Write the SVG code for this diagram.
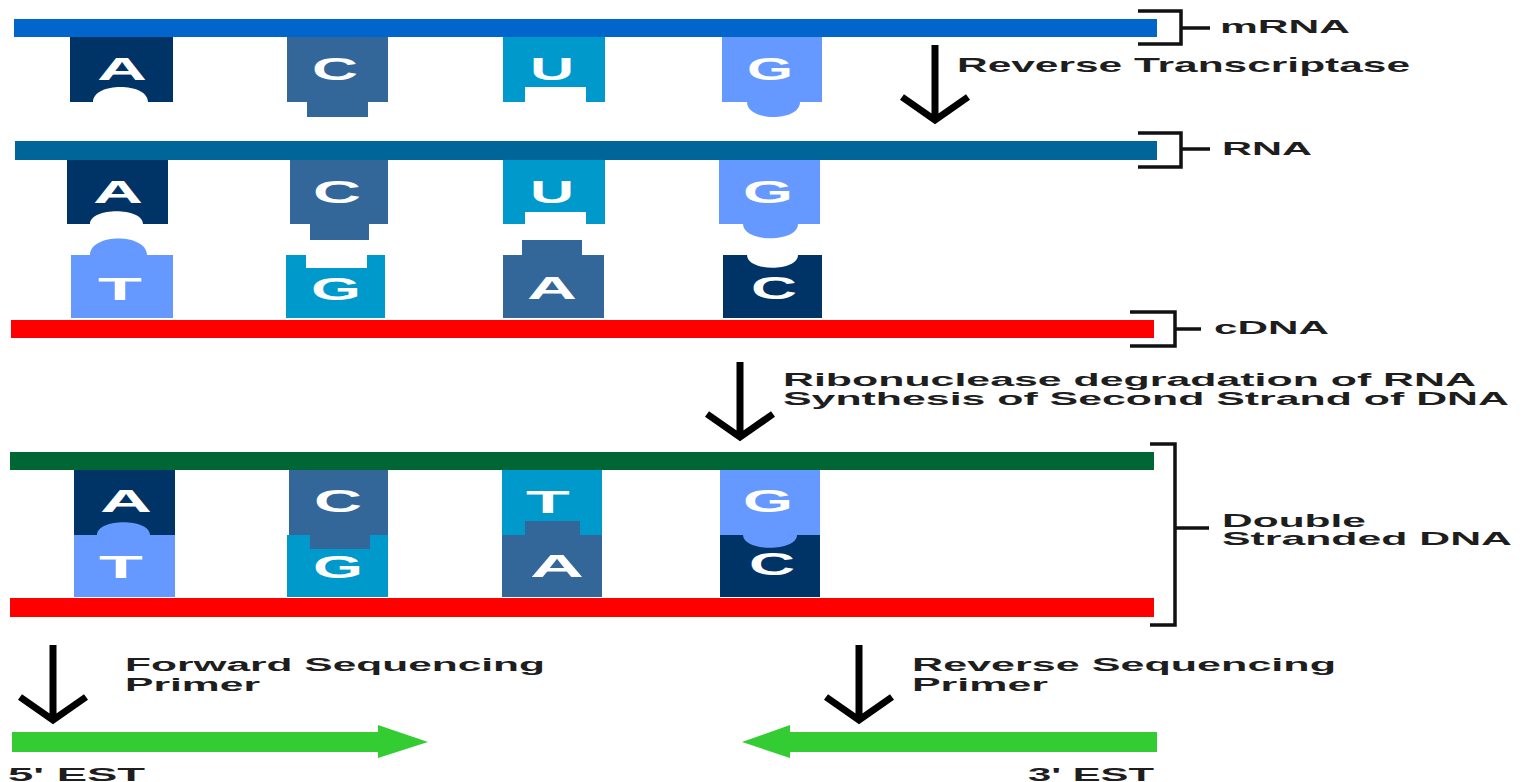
<svg xmlns="http://www.w3.org/2000/svg" width="1524" height="782" viewBox="0 0 1524 782">
<style>
.lbl{font-family:"Liberation Sans",Arial,sans-serif;font-weight:bold;fill:#1e1e1e;}
.b{font-family:"Liberation Sans",Arial,sans-serif;font-weight:bold;fill:#ffffff;font-size:32px;text-anchor:middle;}
.c1{fill:#003366;}
.c2{fill:#336699;}
.c3{fill:#0099CC;}
.c4{fill:#6699FF;}
.brk{fill:none;stroke:#111;stroke-width:3.5;}
.dn{fill:none;stroke:#000;stroke-width:7;}
.gr{fill:#33CC33;}
</style>
<rect width="1524" height="782" fill="#ffffff"/>

<!-- strands -->
<g id="strand-mrna"><rect x="14" y="19" width="1143" height="18" fill="#0066CC"/></g>
<g id="strand-rna"><rect x="15" y="141" width="1142" height="19" fill="#006699"/></g>
<g id="strand-cdna"><rect x="11" y="320" width="1143" height="18" fill="#FF0000"/></g>
<g id="strand-ds-top"><rect x="10" y="452" width="1144" height="18" fill="#006633"/></g>
<g id="strand-ds-bottom"><rect x="10" y="598" width="1144" height="19" fill="#FF0000"/></g>

<!-- row 1: mRNA bases -->
<g id="base-m-a"><path class="c1" d="M70,37H173V102H148C148,82 93,82 93,102H70Z"/><text class="b" x="122" y="80" textLength="50" lengthAdjust="spacingAndGlyphs">A</text></g>
<g id="base-m-c"><path class="c2" d="M287,37H388V102H368V117H307V102H287Z"/><text class="b" x="335" y="80" textLength="46" lengthAdjust="spacingAndGlyphs">C</text></g>
<g id="base-m-u"><path class="c3" d="M503,37H605V102H586V87H525V102H503Z"/><text class="b" x="552" y="80" textLength="44" lengthAdjust="spacingAndGlyphs">U</text></g>
<g id="base-m-g"><path class="c4" d="M722,37H822V102H800C800,122 747,122 747,102H722Z"/><text class="b" x="770" y="80" textLength="46" lengthAdjust="spacingAndGlyphs">G</text></g>

<!-- row 2: RNA bases -->
<g id="base-r-a"><path class="c1" d="M67,160H168V224H143C143,207 90,207 90,224H67Z"/><text class="b" x="118" y="203" textLength="50" lengthAdjust="spacingAndGlyphs">A</text></g>
<g id="base-r-c"><path class="c2" d="M290,160H388V224H369V240H310V224H290Z"/><text class="b" x="337" y="203" textLength="48" lengthAdjust="spacingAndGlyphs">C</text></g>
<g id="base-r-u"><path class="c3" d="M503,160H605V224H586V212H525V224H503Z"/><text class="b" x="552" y="203" textLength="44" lengthAdjust="spacingAndGlyphs">U</text></g>
<g id="base-r-g"><path class="c4" d="M719,160H820V224H798C798,243 743,243 743,224H719Z"/><text class="b" x="768" y="203" textLength="50" lengthAdjust="spacingAndGlyphs">G</text></g>

<!-- row 2: cDNA bases -->
<g id="base-c-t"><path class="c4" d="M71,255H90C90,233 147,233 147,255H173V318H71Z"/><text class="b" x="120" y="300" textLength="44" lengthAdjust="spacingAndGlyphs">T</text></g>
<g id="base-c-g"><path class="c3" d="M286,255H306V268H367V255H385V318H286Z"/><text class="b" x="336" y="300" textLength="50" lengthAdjust="spacingAndGlyphs">G</text></g>
<g id="base-c-a"><path class="c2" d="M503,255H522V240H582V255H604V318H503Z"/><text class="b" x="552" y="299" textLength="50" lengthAdjust="spacingAndGlyphs">A</text></g>
<g id="base-c-c"><path class="c1" d="M723,255H747C747,272 798,272 798,255H822V318H723Z"/><text class="b" x="774" y="299" textLength="46" lengthAdjust="spacingAndGlyphs">C</text></g>

<!-- row 3: double stranded pairs -->
<g id="pair-at">
<rect class="c1" x="74" y="470" width="101" height="65"/>
<text class="b" x="126" y="512" textLength="52" lengthAdjust="spacingAndGlyphs">A</text>
<path class="c4" d="M74,535H97C97,518 150,518 150,535H175V597H74Z"/>
<text class="b" x="121" y="578" textLength="44" lengthAdjust="spacingAndGlyphs">T</text>
</g>
<g id="pair-cg">
<rect class="c3" x="287" y="535" width="101" height="62"/>
<text class="b" x="338" y="578" textLength="50" lengthAdjust="spacingAndGlyphs">G</text>
<path class="c2" d="M289,470H388V535H370V549H310V535H289Z"/>
<text class="b" x="338" y="512" textLength="48" lengthAdjust="spacingAndGlyphs">C</text>
</g>
<g id="pair-ta">
<rect class="c3" x="502" y="470" width="100" height="65"/>
<text class="b" x="548" y="513" textLength="44" lengthAdjust="spacingAndGlyphs">T</text>
<path class="c2" d="M502,535H525V521H580V535H602V597H502Z"/>
<text class="b" x="557" y="577" textLength="54" lengthAdjust="spacingAndGlyphs">A</text>
</g>
<g id="pair-gc">
<rect class="c1" x="720" y="535" width="100" height="62"/>
<text class="b" x="772" y="575" textLength="46" lengthAdjust="spacingAndGlyphs">C</text>
<path class="c4" d="M720,470H820V535H797C797,552 743,552 743,535H720Z"/>
<text class="b" x="768" y="512" textLength="50" lengthAdjust="spacingAndGlyphs">G</text>
</g>

<!-- bottom EST arrows -->
<g id="est-5"><path class="gr" d="M12,732H378V725L428,742L378,758V752H12Z"/><text class="lbl" x="8" y="781" font-size="19" textLength="137" lengthAdjust="spacingAndGlyphs">5' EST</text></g>
<g id="est-3"><path class="gr" d="M1157,732H790V725L742,742L790,758V752H1157Z"/><text class="lbl" x="1028" y="781" font-size="19" textLength="126" lengthAdjust="spacingAndGlyphs">3' EST</text></g>

<!-- labels -->
<g id="label-mrna"><text class="lbl" x="1220" y="33" font-size="18" textLength="130" lengthAdjust="spacingAndGlyphs">mRNA</text></g>
<g id="label-rt"><text class="lbl" x="957" y="72" font-size="21" textLength="453" lengthAdjust="spacingAndGlyphs">Reverse Transcriptase</text></g>
<g id="label-rna"><text class="lbl" x="1222" y="155" font-size="18" textLength="90" lengthAdjust="spacingAndGlyphs">RNA</text></g>
<g id="label-cdna"><text class="lbl" x="1214" y="334" font-size="18" textLength="115" lengthAdjust="spacingAndGlyphs">cDNA</text></g>
<g id="label-rnase">
<text class="lbl" x="783" y="386" font-size="18" textLength="693" lengthAdjust="spacingAndGlyphs">Ribonuclease degradation of RNA</text>
<text class="lbl" x="783" y="405" font-size="18" textLength="726" lengthAdjust="spacingAndGlyphs">Synthesis of Second Strand of DNA</text>
</g>
<g id="label-ds">
<text class="lbl" x="1222" y="527" font-size="19" textLength="144" lengthAdjust="spacingAndGlyphs">Double</text>
<text class="lbl" x="1222" y="545" font-size="19" textLength="290" lengthAdjust="spacingAndGlyphs">Stranded DNA</text>
</g>
<g id="label-fwd">
<text class="lbl" x="125" y="671" font-size="18" textLength="420" lengthAdjust="spacingAndGlyphs">Forward Sequencing</text>
<text class="lbl" x="125" y="691" font-size="18" textLength="135" lengthAdjust="spacingAndGlyphs">Primer</text>
</g>
<g id="label-rev">
<text class="lbl" x="912" y="671" font-size="18" textLength="424" lengthAdjust="spacingAndGlyphs">Reverse Sequencing</text>
<text class="lbl" x="912" y="691" font-size="18" textLength="136" lengthAdjust="spacingAndGlyphs">Primer</text>
</g>

<!-- connectors: brackets and step arrows -->
<g id="connectors">
<path class="brk" d="M1138,11H1181V44H1138M1181,28H1210"/>
<path class="brk" d="M1138,133H1181V167H1138M1181,149H1210"/>
<path class="brk" d="M1130,312H1175V346H1130M1175,329H1201"/>
<path class="brk" d="M1150,444H1175V625H1150M1175,528H1209"/>
<path class="dn" d="M935,45V119M902,97L935,120L968,97"/>
<path class="dn" d="M740,362V436M707,414L740,437L773,414"/>
<path class="dn" d="M53,645V719M20,697L53,720L86,697"/>
<path class="dn" d="M859,645V719M826,697L859,720L892,697"/>
</g>
</svg>
